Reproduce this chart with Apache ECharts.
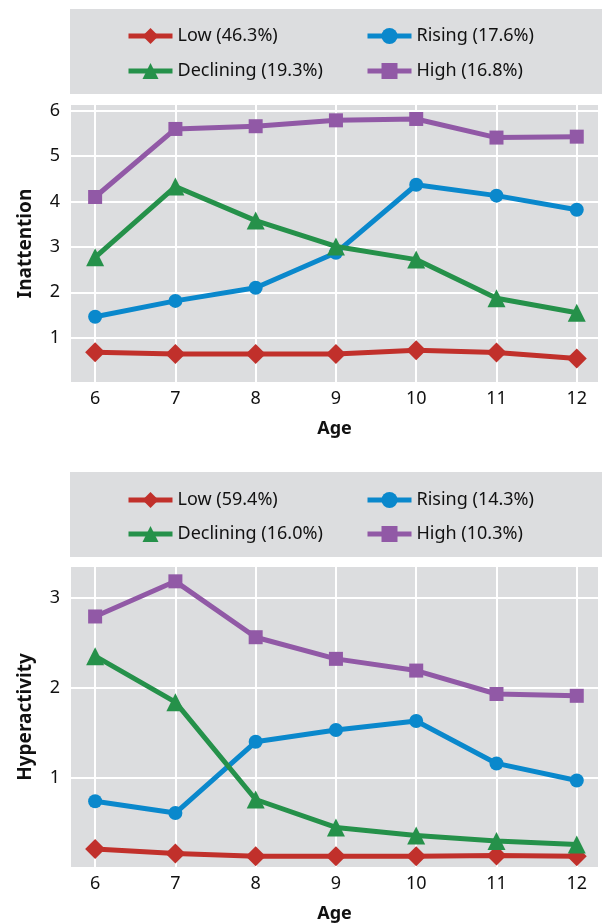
<!DOCTYPE html>
<html><head><meta charset="utf-8">
<script src="https://cdn.jsdelivr.net/npm/echarts@6/dist/echarts.min.js"></script>
<style>html,body{margin:0;padding:0;background:#fff}#c{width:602px;height:924px}</style>
</head><body><div id="c"></div>
<script>
const ages = [6, 7, 8, 9, 10, 11, 12];
const groupNames = ['Low', 'Rising', 'Declining', 'High'];
const inattPct = ['46.3%', '17.6%', '19.3%', '16.8%'];
const hyperPct = ['59.4%', '14.3%', '16.0%', '10.3%'];
const inattLow = [0.68, 0.64, 0.64, 0.64, 0.72, 0.67, 0.54];
const inattRising = [1.46, 1.81, 2.10, 2.87, 4.37, 4.13, 3.82];
const inattDeclining = [2.77, 4.33, 3.58, 3.01, 2.72, 1.87, 1.55];
const inattHigh = [4.10, 5.60, 5.66, 5.79, 5.82, 5.41, 5.43];
const hyperLow = [0.21, 0.16, 0.13, 0.13, 0.13, 0.14, 0.13];
const hyperRising = [0.74, 0.61, 1.40, 1.53, 1.63, 1.16, 0.97];
const hyperDeclining = [2.35, 1.84, 0.76, 0.45, 0.36, 0.30, 0.26];
const hyperHigh = [2.79, 3.18, 2.56, 2.32, 2.19, 1.93, 1.91];

const colors = {Low:'#c1302b', Rising:'#0a88cc', Declining:'#25914a', High:'#9159a6'};
const symbols = {Low:['diamond',20], Rising:['circle',14], Declining:['triangle',18], High:['rect',14]};
const FONT = 'Noto Sans';
const bg = '#dcdddf';

function mk(name, pct, vals, idx){
  return {
    name: name + ' (' + pct + ')', type:'line', xAxisIndex: idx, yAxisIndex: idx,
    data: ages.map((a,i)=>[a, vals[i]]),
    symbol: symbols[name][0], symbolSize: symbols[name][1],
    itemStyle:{color: colors[name]}, lineStyle:{color: colors[name], width:5},
    animation:false, z: 3
  };
}
const inattSets = [inattLow, inattRising, inattDeclining, inattHigh];
const hyperSets = [hyperLow, hyperRising, hyperDeclining, hyperHigh];
const series = [];
groupNames.forEach((g,i)=>series.push(mk(g, inattPct[i], inattSets[i], 0)));
groupNames.forEach((g,i)=>series.push(mk(g, hyperPct[i], hyperSets[i], 1)));

function xAx(idx){
  return {type:'value', gridIndex: idx, min:5.687, max:12.277, splitNumber:7,
    axisLine:{show:false}, axisTick:{show:false},
    axisLabel:{fontFamily:FONT, fontSize:18, color:'#111', margin:7,
      formatter:v=>(Math.abs(v-Math.round(v))<1e-6)?String(Math.round(v)):''},
    splitLine:{show:true, lineStyle:{color:'#fff', width:2}},
    name:'Age', nameLocation:'middle', nameGap:37,
    nameTextStyle:{fontFamily:FONT, fontSize:18, fontWeight:'bold', color:'#111'}};
}
function yAx(idx, max, name){
  return {type:'value', gridIndex: idx, min:0, max:max, interval:1,
    axisLine:{show:false}, axisTick:{show:false},
    axisLabel:{fontFamily:FONT, fontSize:18, color:'#111', margin:10,
      formatter:v=>(v>0 && Math.abs(v-Math.round(v))<1e-6)?String(Math.round(v)):''},
    splitLine:{show:true, lineStyle:{color:'#fff', width:2}},
    name:name, nameLocation:'middle', nameGap:35, nameRotate:90,
    nameTextStyle:{fontFamily:FONT, fontSize:19, fontWeight:'bold', color:'#111'}};
}
function lg(left, top, gap, data){
  return {left:left, top:top, orient:'vertical', itemGap:gap, itemWidth:44, itemHeight:20,
    padding:0, selectedMode:false, data:data,
    lineStyle:{width:5},
    textStyle:{fontFamily:FONT, fontSize:18, color:'#111'}};
}
const n1 = groupNames.map((g,i)=>g+' ('+inattPct[i]+')');
const n2 = groupNames.map((g,i)=>g+' ('+hyperPct[i]+')');

const chart = echarts.init(document.getElementById('c'), null, {renderer:'canvas'});
chart.setOption({
  animation:false,
  backgroundColor:'#fff',
  graphic:[
    {type:'rect', left:70, top:9, shape:{width:532, height:85}, style:{fill:bg}, z:-10},
    {type:'rect', left:70, top:472, shape:{width:532, height:85}, style:{fill:bg}, z:-10}
  ],
  grid:[
    {left:70, top:104, right:0, height:279, show:true, backgroundColor:bg, borderWidth:0},
    {left:70, top:566, right:0, height:302, show:true, backgroundColor:bg, borderWidth:0}
  ],
  legend:[
    lg(126, 27, 17, [n1[0], n1[2]]),
    lg(365, 27, 17, [n1[1], n1[3]]),
    lg(126, 491, 16, [n2[0], n2[2]]),
    lg(365, 491, 16, [n2[1], n2[3]])
  ],
  xAxis:[xAx(0), xAx(1)],
  yAxis:[yAx(0, 6.15, 'Inattention'), yAx(1, 3.35, 'Hyperactivity')],
  series: series
});
</script></body></html>
